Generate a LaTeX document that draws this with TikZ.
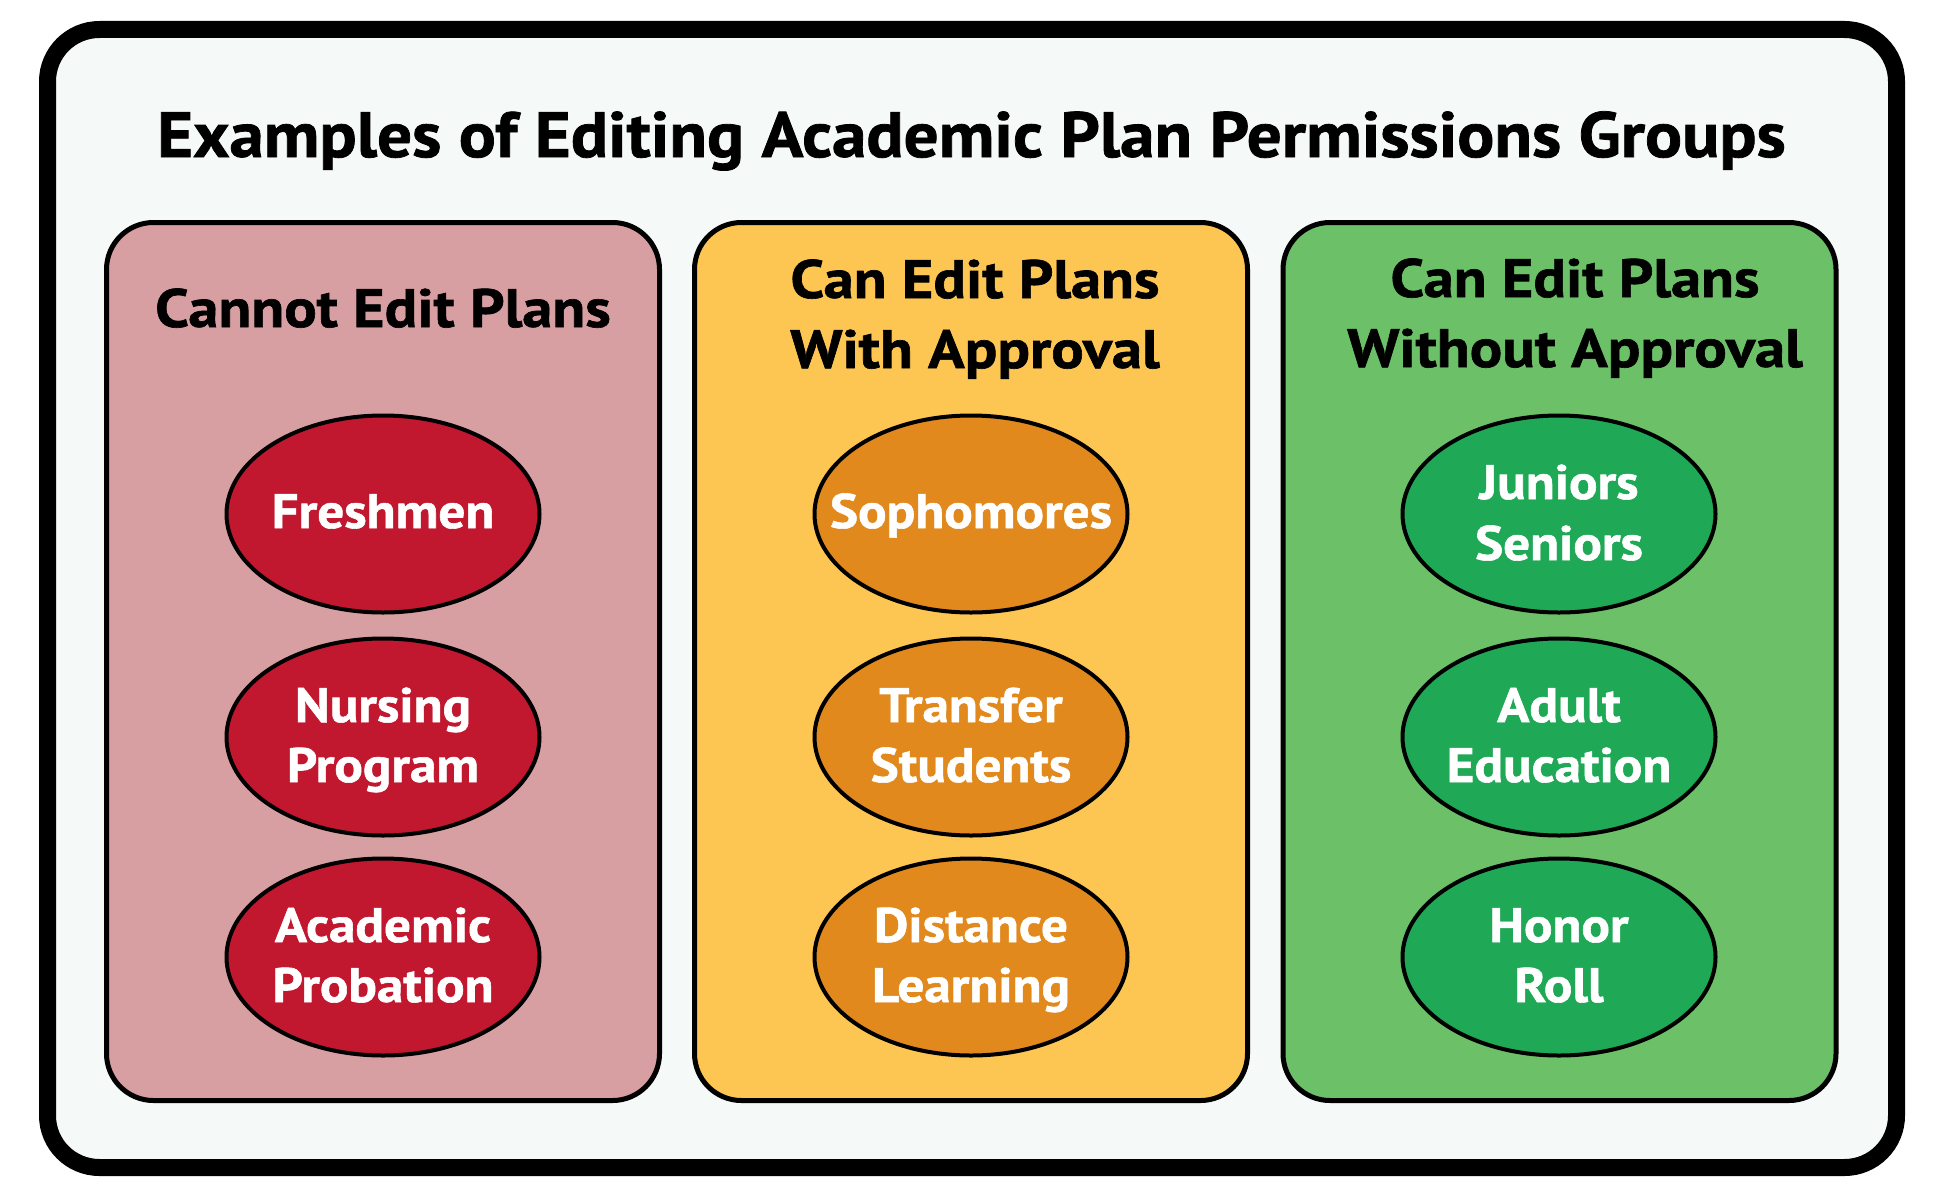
\documentclass[tikz,border=0pt]{standalone}
\usepackage{fontspec}
\setmainfont{PT Sans}
\newfontfamily\ttlfont{PT Sans}[FakeStretch=1.08,FakeBold=1.2]
\newfontfamily\headfont{PT Sans}[FakeStretch=1.12,FakeBold=1.2]
\newfontfamily\ovalfont{PT Sans}[FakeStretch=1.095,FakeBold=1.2]
\usetikzlibrary{shapes.geometric}
\definecolor{bgc}{HTML}{F5F9F8}
\definecolor{redpanel}{HTML}{D89FA2}
\definecolor{redell}{HTML}{C1172F}
\definecolor{yelpanel}{HTML}{FDC652}
\definecolor{yelell}{HTML}{E1891C}
\definecolor{grnpanel}{HTML}{6CC067}
\definecolor{grnell}{HTML}{1FA855}
\begin{document}
\begin{tikzpicture}[x=1pt,y=-1pt,
  frame/.style={rectangle,draw=black,line width=17pt,fill=bgc,rounded corners=52pt,minimum width=1849pt,minimum height=1138pt,inner sep=0pt},
  panel/.style={rectangle,draw=black,line width=5pt,rounded corners=47pt,minimum width=553pt,minimum height=878pt,inner sep=0pt},
  oval/.style={ellipse,draw=black,line width=4pt,minimum width=313pt,minimum height=197pt,inner sep=0pt},
  ttl/.style={anchor=base,inner sep=0pt,font=\ttlfont\bfseries\fontsize{64}{70}\selectfont},
  head/.style={anchor=base,inner sep=0pt,font=\headfont\bfseries\fontsize{54}{64}\selectfont},
  otext/.style={anchor=base,inner sep=0pt,text=white,font=\ovalfont\bfseries\fontsize{48.5}{58}\selectfont}]
\useasboundingbox (0,0) rectangle (1942,1199);
\node[frame] (frame) at (972,598.5) {};
\node[ttl] (title) at (971.5,157) {Examples of Editing Academic Plan Permissions Groups};
% panels
\node[panel,fill=redpanel] (p1) at (383,661.5) {};
\node[panel,fill=yelpanel] (p2) at (971,661.5) {};
\node[panel,fill=grnpanel] (p3) at (1559.5,661.5) {};
% headings
\node[head] (h1) at (383,327) {Cannot Edit Plans};
\node[head] (h2a) at (975,298) {Can Edit Plans};
\node[head] (h2b) at (975,368) {With Approval};
\node[head] (h3a) at (1575,297) {Can Edit Plans};
\node[head] (h3b) at (1575,367) {Without Approval};
% ovals
\node[oval,fill=redell] (e11) at (383,514) {};
\node[oval,fill=redell] (e12) at (383,737) {};
\node[oval,fill=redell] (e13) at (383,957) {};
\node[oval,fill=yelell] (e21) at (971,514) {};
\node[oval,fill=yelell] (e22) at (971,737) {};
\node[oval,fill=yelell] (e23) at (971,957) {};
\node[oval,fill=grnell] (e31) at (1559,514) {};
\node[oval,fill=grnell] (e32) at (1559,737) {};
\node[oval,fill=grnell] (e33) at (1559,957) {};
% oval texts
\node[otext] (t11) at (383,528) {Freshmen};
\node[otext] (t12a) at (383,722) {Nursing};
\node[otext] (t12b) at (383,782) {Program};
\node[otext] (t13a) at (383,942) {Academic};
\node[otext] (t13b) at (383,1002) {Probation};
\node[otext] (t21) at (971,528) {Sophomores};
\node[otext] (t22a) at (971,722) {Transfer};
\node[otext] (t22b) at (971,782) {Students};
\node[otext] (t23a) at (971,942) {Distance};
\node[otext] (t23b) at (971,1002) {Learning};
\node[otext] (t31a) at (1559,499) {Juniors};
\node[otext] (t31b) at (1559,560) {Seniors};
\node[otext] (t32a) at (1559,722) {Adult};
\node[otext] (t32b) at (1559,782) {Education};
\node[otext] (t33a) at (1559,942) {Honor};
\node[otext] (t33b) at (1559,1002) {Roll};
\end{tikzpicture}
\end{document}
